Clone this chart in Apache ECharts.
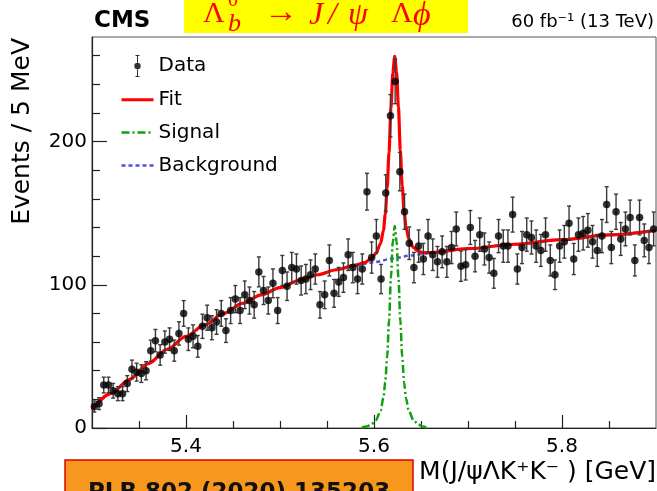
<!DOCTYPE html>
<html><head><meta charset="utf-8">
<script src="https://cdn.jsdelivr.net/npm/echarts@6/dist/echarts.min.js"></script>
<style>html,body{margin:0;padding:0;background:#fff}#c{width:657px;height:491px}</style>
</head><body><div id="c"></div>
<script>
// ---- data ----
const binLow = 5.3, binWidth = 0.005;   // 5 MeV bins
const counts = [
  15,17,30,30,26,24,24,31,41,39, 38,40,54,61,51,60,62,54,66,80,
  62,64,57,71,77,70,74,80,68,82, 90,82,93,89,86,109,96,89,101,82,
  110,99,112,111,103,104,107,111,86,93, 117,94,102,105,121,112,104,111,165,119,
  134,104,164,218,242,179,151,129,112,127, 118,134,121,116,123,116,126,139,113,114,
  140,120,135,125,119,108,134,127,127,149, 111,126,135,133,127,124,135,117,107,127,
  130,143,118,135,136,138,130,124,134,156, 126,151,132,139,147,117,147,131,126,139
];
const bgX = [5.30,5.32,5.34,5.36,5.38,5.40,5.42,5.44,5.46,5.48,5.50,5.52,5.54,5.56,5.58,5.60,5.62,5.64,5.66,5.70,5.75,5.80,5.85,5.90];
const bgY = [13,24,34,45,55,64,72,80,87,93,98,103,107,110.5,113.5,115.8,118.3,120.5,122.3,125.2,128.3,131.5,134.8,138];
const fitX = [5.30,5.32,5.34,5.36,5.38,5.40,5.42,5.44,5.46,5.48,5.50,5.52,5.54,5.56,5.58,
  5.59,5.597,5.602,5.607,5.610,5.612,5.614,5.616,5.618,5.620,5.622,5.624,5.626,5.628,5.630,5.632,5.634,5.637,5.642,5.647,5.652,
  5.66,5.70,5.75,5.80,5.85,5.90];
const fitY = [13,24,34,45,55,64,72,80,87,93,98,103,107,110.5,113.7,
  115.4,118.4,121.7,128.8,138,149.3,167.5,192.7,222.9,248,259.5,248.7,223.9,194,169.3,151.5,140.7,132,126,123.5,122.3,
  122.5,125.2,128.3,131.5,134.8,138];
const sigX = [5.587,5.592,5.597,5.602,5.607,5.610,5.612,5.614,5.616,5.618,5.620,5.622,5.624,5.626,5.628,5.630,5.632,5.634,5.637,5.642,5.647,5.652,5.657];
const sigY = [0.3,1,2.5,5.5,12,21,32,50,75,105,130,141,130,105,75,50,32,21,12,5.5,2.5,1,0.3];
const xMajorTicks = [5.4,5.6,5.8];
const xMinorTicks = [5.35,5.45,5.5,5.55,5.65,5.7,5.75,5.85];
const yMajorTicks = [0,100,200];
const yMinorTicks = [20,40,60,80,120,140,160,180,220,240,260];

// ---- build series data ----
const binCenters = counts.map((_, i) => +(binLow + (i + 0.5) * binWidth).toFixed(4));
const dataPts = counts.map((v, i) => [binCenters[i], v]);
const errPts = counts.map((v, i) => [binCenters[i], v - Math.sqrt(v), v + Math.sqrt(v)]);
const zip = (a, b) => a.map((v, i) => [v, b[i]]);

const SANS = '"DejaVu Sans"';
const SERIF = '"Liberation Serif"';
const chart = echarts.init(document.getElementById('c'), null, {renderer: 'canvas'});

const axisCommon = {
  axisLine: {show: true, onZero: false, lineStyle: {color: '#222', width: 1.2}},
  splitLine: {show: false}
};
const noSym = {opacity: 0};

chart.setOption({
  animation: false,
  backgroundColor: '#fff',
  grid: {left: 92, right: 1, top: 37, bottom: 63, show: true, borderColor: '#555', borderWidth: 1},
  xAxis: [
    Object.assign({type: 'value', min: 5.3, max: 5.9, position: 'bottom',
      axisTick: {show: true, inside: true, length: 13, customValues: xMajorTicks, lineStyle: {color: '#222', width: 1.2}},
      axisLabel: {customValues: xMajorTicks, formatter: v => v.toFixed(1), fontSize: 20, fontFamily: SANS, color: '#000', margin: 9}
    }, axisCommon),
    {type: 'value', min: 5.3, max: 5.9, position: 'bottom', axisLine: {show: false, onZero: false},
      axisTick: {show: true, inside: true, length: 7, customValues: xMinorTicks, lineStyle: {color: '#222', width: 1.2}},
      axisLabel: {show: false}, splitLine: {show: false}}
  ],
  yAxis: [
    Object.assign({type: 'value', min: 0, max: 273, position: 'left',
      axisTick: {show: true, inside: true, length: 15, customValues: yMajorTicks, lineStyle: {color: '#222', width: 1.2}},
      axisLabel: {customValues: yMajorTicks, fontSize: 20, fontFamily: SANS, color: '#000', margin: 5}
    }, axisCommon),
    {type: 'value', min: 0, max: 273, position: 'left', axisLine: {show: false, onZero: false},
      axisTick: {show: true, inside: true, length: 8, customValues: yMinorTicks, lineStyle: {color: '#222', width: 1.2}},
      axisLabel: {show: false}, splitLine: {show: false}}
  ],
  legend: {
    orient: 'vertical', left: 115, top: 50, itemWidth: 32, itemHeight: 22, itemGap: 12.8,
    textStyle: {fontFamily: SANS, fontSize: 20, color: '#000'},
    data: [
      {name: 'Data', icon: 'path://M2,0H6V1H2Z M3.5,0H4.5V8H3.5Z M3.5,14H4.5V22H3.5Z M2,21H6V22H2Z M0.8,11A3.2,3.2,0,1,0,7.2,11A3.2,3.2,0,1,0,0.8,11Z'},
      {name: 'Fit', itemStyle: noSym, lineStyle: {width: 3}},
      {name: 'Signal', itemStyle: noSym, lineStyle: {width: 2.5}},
      {name: 'Background', itemStyle: noSym, lineStyle: {width: 2.5}}
    ]
  },
  series: [
    {name: 'Background', type: 'line', data: zip(bgX, bgY), symbol: 'none', smooth: 0.3, smoothMonotone: 'x',
      lineStyle: {color: '#4f4fe0', width: 2.5, type: [4, 3]}, itemStyle: {color: '#4f4fe0'}, z: 2},
    {name: 'Signal', type: 'line', data: zip(sigX, sigY), symbol: 'none', smooth: 0.3, smoothMonotone: 'x',
      lineStyle: {color: '#10a010', width: 2.5, type: [8, 3, 2, 3]}, itemStyle: {color: '#10a010'}, z: 3},
    {name: 'Fit', type: 'line', data: zip(fitX, fitY), symbol: 'none', smooth: 0.3, smoothMonotone: 'x',
      lineStyle: {color: '#ff0000', width: 3.2}, itemStyle: {color: '#ff0000'}, z: 4},
    {name: 'err', type: 'custom', data: errPts, encode: {x: 0, y: [1, 2]}, z: 5, silent: true,
      renderItem: function (params, api) {
        const x = api.value(0);
        const lo = api.coord([x, api.value(1)]);
        const hi = api.coord([x, api.value(2)]);
        const cap = 2;
        const st = {stroke: '#3a3a3a', lineWidth: 1.4};
        return {type: 'group', children: [
          {type: 'line', shape: {x1: lo[0], y1: lo[1], x2: hi[0], y2: hi[1]}, style: st},
          {type: 'line', shape: {x1: lo[0] - cap, y1: lo[1], x2: lo[0] + cap, y2: lo[1]}, style: st},
          {type: 'line', shape: {x1: hi[0] - cap, y1: hi[1], x2: hi[0] + cap, y2: hi[1]}, style: st}
        ]};
      }},
    {name: 'Data', type: 'scatter', data: dataPts, symbol: 'circle', symbolSize: 7.5,
      itemStyle: {color: '#000'}, z: 6}
  ],
  graphic: [
    {type: 'rect', shape: {x: 184, y: 0, width: 284, height: 33}, style: {fill: '#ffff00'}, z: 50},
    {type: 'text', x: 203, y: 14, z: 51, style: {text: 'Λ', fill: '#ff0000', font: '30px ' + SERIF, textVerticalAlign: 'middle'}},
    {type: 'text', x: 228, y: 1, z: 51, style: {text: '0', fill: '#ff0000', font: '20px ' + SERIF, textVerticalAlign: 'middle'}},
    {type: 'text', x: 228, y: 24, z: 51, style: {text: 'b', fill: '#ff0000', font: 'italic 26px ' + SERIF, textVerticalAlign: 'middle'}},
    {type: 'text', x: 264, y: 13, z: 51, style: {text: '→', fill: '#ff0000', font: '34px ' + SERIF, textVerticalAlign: 'middle'}},
    {type: 'text', x: 309, y: 16, z: 51, style: {text: 'J', fill: '#ff0000', font: 'italic 32px ' + SERIF, textVerticalAlign: 'middle'}},
    {type: 'text', x: 328, y: 16, z: 51, style: {text: '/', fill: '#ff0000', font: 'italic 32px ' + SERIF, textVerticalAlign: 'middle'}},
    {type: 'text', x: 348, y: 16, z: 51, style: {text: 'ψ', fill: '#ff0000', font: 'italic 32px ' + SERIF, textVerticalAlign: 'middle'}},
    {type: 'text', x: 391, y: 14, z: 51, style: {text: 'Λ', fill: '#ff0000', font: '30px ' + SERIF, textVerticalAlign: 'middle'}},
    {type: 'text', x: 413, y: 16, z: 51, style: {text: 'ϕ', fill: '#ff0000', font: 'italic 34px ' + SERIF, textVerticalAlign: 'middle'}},
    {type: 'text', x: 94, y: 21, z: 51, style: {text: 'CMS', fill: '#000', font: 'bold 23px ' + SANS, textVerticalAlign: 'middle'}},
    {type: 'text', x: 654, y: 22, z: 51, style: {text: '60 fb⁻¹ (13 TeV)', fill: '#000', font: '18px ' + SANS, textAlign: 'right', textVerticalAlign: 'middle'}},
    {type: 'text', x: 22, y: 38, rotation: Math.PI / 2, z: 51, style: {text: 'Events / 5 MeV', fill: '#000', font: '25px ' + SANS, textAlign: 'right', textVerticalAlign: 'middle'}},
    {type: 'text', x: 656, y: 472, z: 51, style: {text: 'M(J/ψΛK⁺K⁻ ) [GeV]', fill: '#000', font: '25px ' + SANS, textAlign: 'right', textVerticalAlign: 'middle'}},
    {type: 'rect', shape: {x: 65, y: 460, width: 348, height: 40}, style: {fill: '#f7971e', stroke: '#e00000', lineWidth: 1.5}, z: 50},
    {type: 'text', x: 88, y: 482, z: 51, style: {text: 'PLB 802 (2020) 135203', fill: '#111', font: 'bold 23px ' + SANS, textVerticalAlign: 'top'}}
  ]
});
</script></body></html>
